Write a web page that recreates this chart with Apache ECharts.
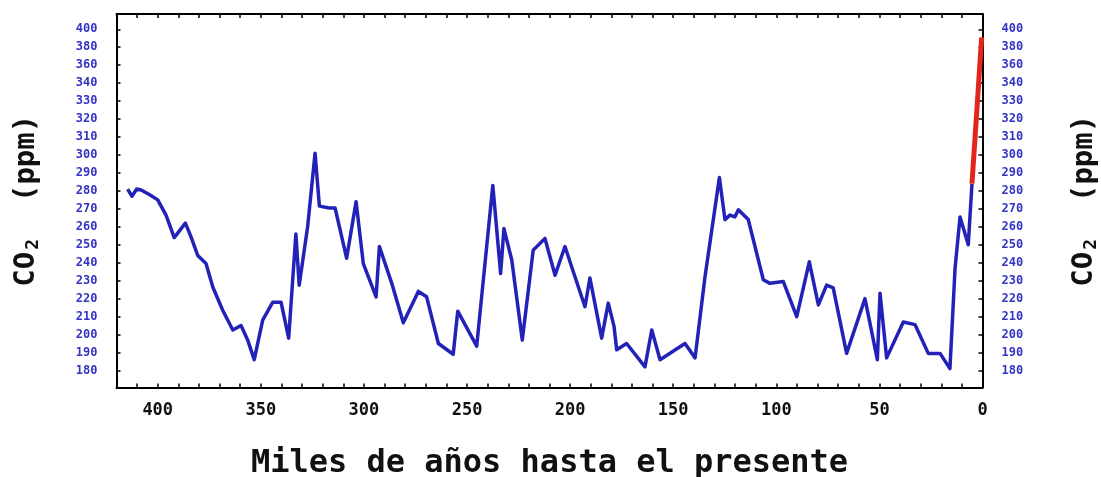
<!DOCTYPE html>
<html>
<head>
<meta charset="utf-8">
<script src="https://cdn.jsdelivr.net/npm/echarts@6/dist/echarts.min.js"></script>
<style>
  html, body { margin: 0; padding: 0; background: #ffffff; }
  #chart { width: 1101px; height: 477px; }
</style>
</head>
<body>
<div id="chart"></div>
<script>
// Tick labels of the two scales
const xTickLabels = [400, 350, 300, 250, 200, 150, 100, 50, 0];
const yTickLabels = [180, 190, 200, 210, 220, 230, 240, 250, 260, 270, 280,
                     290, 300, 310, 320, 330, 340, 360, 380, 400];

// Ice-core record: thousands of years before present, CO2 in ppm
const ages = [414.6, 412.5, 410.2, 408.1, 404.1, 400.0, 396.0, 392.0, 386.6, 383.9,
              380.6, 376.6, 373.3, 368.5, 363.6, 359.6, 356.4, 353.2, 349.1, 344.2,
              340.2, 336.5, 333.0, 331.4, 327.3, 323.7, 321.6, 316.8, 314.0, 308.4,
              303.8, 300.3, 294.1, 292.5, 286.5, 280.9, 273.6, 269.6, 263.9, 256.7,
              254.5, 245.3, 237.5, 233.7, 232.1, 228.3, 223.2, 217.9, 212.2, 207.3,
              202.5, 197.6, 192.8, 190.4, 184.7, 181.5, 178.7, 177.4, 172.6, 163.7,
              160.4, 156.4, 144.3, 139.4, 134.6, 127.6, 124.9, 122.5, 120.1, 118.4,
              113.6, 106.3, 103.1, 96.6, 90.1, 84.0, 79.6, 75.6, 72.4, 65.9,
              57.0, 51.0, 49.7, 46.5, 38.4, 32.7, 26.3, 20.6, 15.8, 13.3,
              10.9, 6.9, 5.1];
const co2 = [281, 277, 281, 280.5, 278, 275, 266.5, 254, 262, 254.5,
             244, 239.5, 226.5, 213.5, 202.5, 205, 197, 186, 208, 218,
             218, 198, 256, 227.5, 260, 301, 271.5, 270.5, 270.5, 242.5,
             274, 239.5, 221, 249, 228.5, 206.5, 224, 221, 195, 189,
             213, 193.5, 283, 234, 259, 241.5, 197, 247, 253.5, 233,
             249, 232, 215.5, 231.5, 198, 217.5, 204.5, 191.5, 195, 182,
             202.5, 186, 195, 187, 232, 287.5, 264, 266.5, 265.5, 269.5,
             264, 230.5, 228.5, 229.5, 210, 240.5, 216.5, 227.5, 226, 189.5,
             220, 186, 223, 187, 207, 205.5, 189.5, 189.5, 181, 237,
             265.5, 250, 284];

// Industrial-era rise
const industrialAges = [5.1, 0.4];
const industrialCo2 = [284, 391];

// The ppm scale runs in steps of 10 up to 330 and in steps of 20 above it,
// with every label one slot above the last; values are placed by slot.
function toSlot(v) {
  const t = yTickLabels;
  if (v <= t[0]) return (v - t[0]) / (t[1] - t[0]);
  for (let i = 0; i < t.length - 1; i++) {
    if (v <= t[i + 1]) return i + (v - t[i]) / (t[i + 1] - t[i]);
  }
  const n = t.length - 1;
  return n + (v - t[n]) / (t[n] - t[n - 1]);
}
const slotIndices = yTickLabels.map((_, i) => i);

const ageTicks = [];
for (let a = 0; a <= 420; a += 10) ageTicks.push(a);

const MONO = "'DejaVu Sans Mono', 'Liberation Mono', monospace";
const LABEL_BLUE = '#3434c4';

function yAxisFor(position) {
  return {
    type: 'value',
    position: position,
    min: -0.95,
    max: 19.85,
    axisLine: { show: true, onZero: false, lineStyle: { color: '#000', width: 2 } },
    axisTick: { show: true, inside: true, length: 4, customValues: slotIndices,
                lineStyle: { color: '#000', width: 1.5 } },
    axisLabel: {
      customValues: slotIndices,
      formatter: v => String(yTickLabels[Math.round(v)]),
      margin: 19,
      color: LABEL_BLUE,
      fontFamily: MONO,
      fontWeight: 'bold',
      fontSize: 12
    },
    splitLine: { show: false },
    name: '{m|CO}{s|2}{m|  (ppm)}',
    nameLocation: 'middle',
    nameRotate: 90,
    nameGap: position === 'left' ? 74 : 86,
    nameTextStyle: {
      color: '#111',
      rich: {
        m: { fontFamily: MONO, fontWeight: 'bold', fontSize: 29, color: '#111' },
        s: { fontFamily: MONO, fontWeight: 'bold', fontSize: 18, color: '#111',
             padding: [14, 2, 0, 2] }
      }
    }
  };
}

const chart = echarts.init(document.getElementById('chart'), null, { renderer: 'canvas' });
chart.setOption({
  animation: false,
  backgroundColor: '#ffffff',
  grid: { left: 116.5, right: 118.5, top: 14, bottom: 89.5, outerBoundsMode: 'none' },
  xAxis: [
    {
      type: 'value',
      position: 'bottom',
      min: 0,
      max: 420,
      inverse: true,
      axisLine: { show: true, onZero: false, lineStyle: { color: '#000', width: 2 } },
      axisTick: { show: true, inside: true, length: 4, customValues: ageTicks,
                  lineStyle: { color: '#000', width: 1.5 } },
      axisLabel: {
        customValues: xTickLabels,
        margin: 15,
        color: '#111',
        fontFamily: MONO,
        fontWeight: 'bold',
        fontSize: 17
      },
      splitLine: { show: false },
      name: 'Miles de años hasta el presente',
      nameLocation: 'middle',
      nameGap: 60,
      nameTextStyle: { fontFamily: MONO, fontWeight: 'bold', fontSize: 32, color: '#111' }
    },
    {
      type: 'value',
      position: 'top',
      min: 0,
      max: 420,
      inverse: true,
      axisLine: { show: true, onZero: false, lineStyle: { color: '#000', width: 2 } },
      axisTick: { show: true, inside: true, length: 4, customValues: ageTicks,
                  lineStyle: { color: '#000', width: 1.5 } },
      axisLabel: { show: false },
      splitLine: { show: false }
    }
  ],
  yAxis: [yAxisFor('left'), yAxisFor('right')],
  series: [
    {
      type: 'line',
      xAxisIndex: 0,
      yAxisIndex: 0,
      data: ages.map((a, i) => [a, toSlot(co2[i])]),
      symbol: 'none',
      lineStyle: { color: '#2222b8', width: 3.5, join: 'round' },
      z: 2
    },
    {
      type: 'line',
      xAxisIndex: 0,
      yAxisIndex: 0,
      data: industrialAges.map((a, i) => [a, toSlot(industrialCo2[i])]),
      symbol: 'none',
      lineStyle: { color: '#e3261c', width: 5, join: 'round' },
      z: 3
    }
  ]
});
</script>
</body>
</html>
